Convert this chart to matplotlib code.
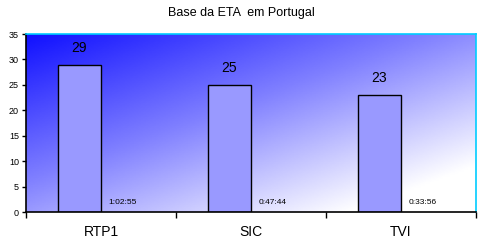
import numpy as np
import matplotlib.pyplot as plt
from matplotlib.colors import LinearSegmentedColormap

plt.rcParams['font.family'] = ['Liberation Sans', 'DejaVu Sans']

canais = ['RTP1', 'SIC', 'TVI']
noticias = [29, 25, 23]
tempos = ['1:02:55', '0:47:44', '0:33:56']
# tempo em fracao de dia (serie quase invisivel)
tempo_dias = [0.0437, 0.0332, 0.0236]

fig = plt.figure(figsize=(4.83, 2.47), dpi=100)
ax = fig.add_axes([26 / 483, 1 - 212 / 247, 450 / 483, 178 / 247])

# fundo em gradiente diagonal
ny, nx = 100, 200
xx, yy = np.meshgrid(np.linspace(0, 1, nx), np.linspace(0, 1, ny))
t = np.clip(0.55 * xx + 0.6 * yy, 0, 1)
cmap = LinearSegmentedColormap.from_list('fundo', ['#1010FF', '#8080FF', '#FFFFFF'])
ax.imshow(t, cmap=cmap, extent=[0, 3, 0, 35], origin='upper', aspect='auto', zorder=0)

x = np.arange(len(canais)) + 0.5
w = 43 / 150
b1 = ax.bar(x - w / 2, noticias, w, color='#9999FF', edgecolor='black', linewidth=1, zorder=2)
b2 = ax.bar(x + w / 2, tempo_dias, w, color='#993366', edgecolor='black', linewidth=0.5, zorder=2)

for xi, v in zip(x - w / 2, noticias):
    ax.text(xi, v + 1.9, str(v), ha='center', va='bottom', fontsize=10)
for xi, s in zip(x + w / 2, tempos):
    ax.text(xi, 1.2, s, ha='center', va='bottom', fontsize=6)

ax.set_xlim(0, 3)
ax.set_ylim(0, 35)
ax.set_yticks(range(0, 36, 5))
ax.set_xticks([0, 1, 2, 3])
ax.set_xticklabels([])
ax.set_xticks(x, minor=True)
ax.set_xticklabels(canais, minor=True, fontsize=10)
ax.tick_params(axis='x', which='minor', length=0, pad=9)
ax.tick_params(axis='x', which='major', length=4, width=1, direction='out')
ax.tick_params(axis='y', labelsize=6.5, length=3, width=1, pad=2)

ax.spines['top'].set_color('#00CCFF')
ax.spines['right'].set_color('#00CCFF')
for s in ax.spines.values():
    s.set_linewidth(1.2)

fig.text(0.5, 1 - 13 / 247, 'Base da ETA  em Portugal', ha='center', va='center', fontsize=9)

fig.savefig('out.png', dpi=100)
